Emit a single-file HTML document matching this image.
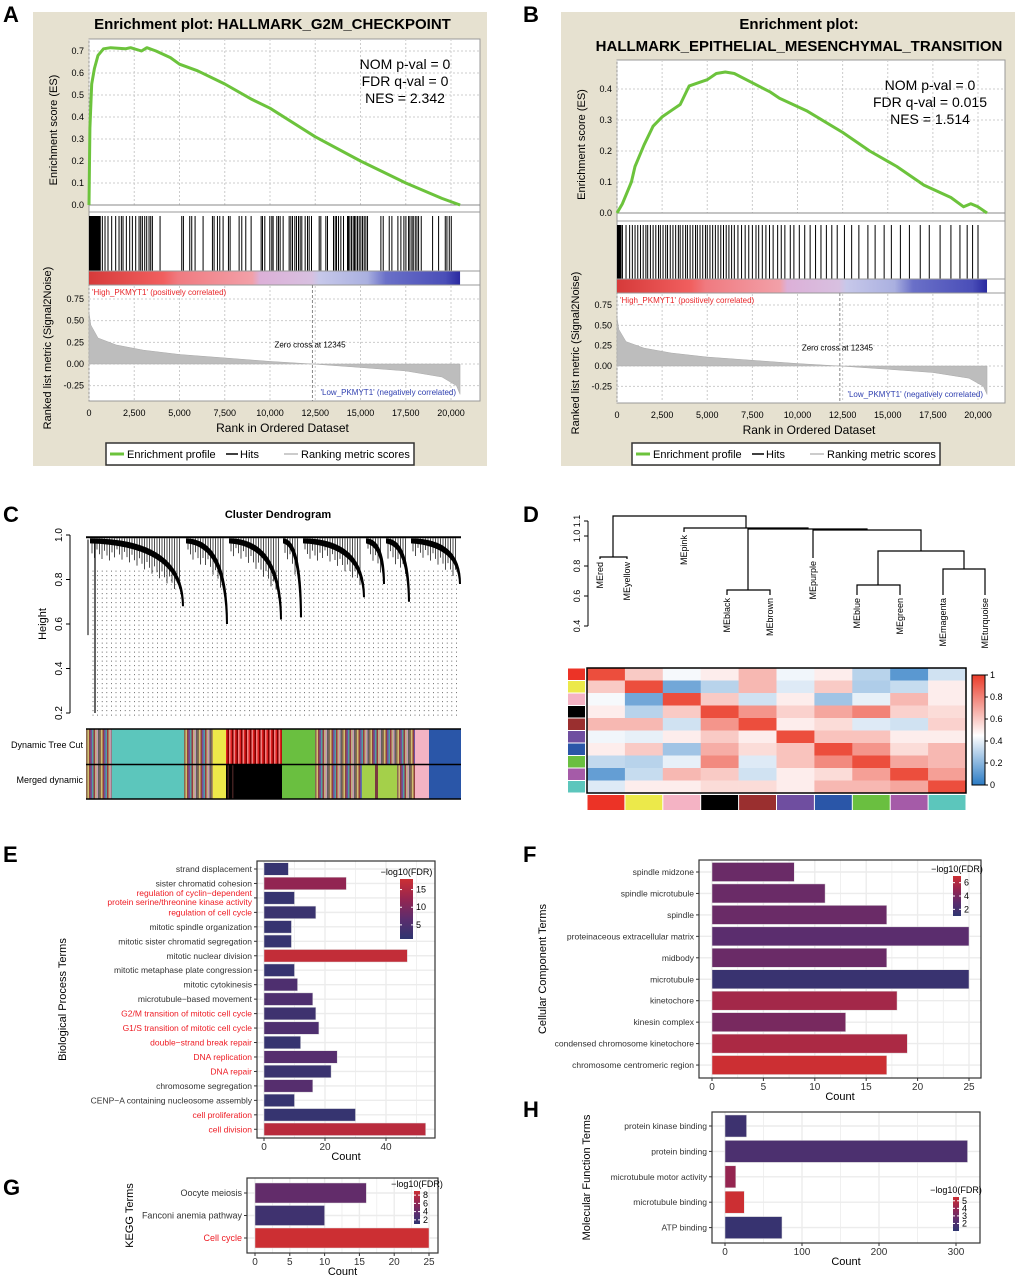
<!DOCTYPE html>
<html><head><meta charset="utf-8"><style>
html,body{margin:0;padding:0;background:#fff}
svg text{font-family:"Liberation Sans",Arial,sans-serif}
</style></head><body>
<svg id="fig" width="1020" height="1277" viewBox="0 0 1020 1277" xmlns="http://www.w3.org/2000/svg">
<rect width="1020" height="1277" fill="#fff"/>
<g font-weight="bold" font-size="22">
<text x="3" y="22">A</text><text x="523" y="22">B</text><text x="3" y="522">C</text><text x="523" y="522">D</text>
<text x="3" y="862">E</text><text x="523" y="862">F</text><text x="3" y="1195">G</text><text x="523" y="1117">H</text>
</g>
<g id="gA"></g>
<g id="gB"></g>
<g id="gC"></g>
<g id="gD"></g>
<g id="gE"></g>
<g id="gF"></g>
<g id="gG"></g>
<g id="gH"></g>
</svg>
<script>
const aEsRanks=[0,50,150,300,500,800,1200,2000,2300,2900,3200,3700,4500,5000,6000,7500,9000,10000,12500,15000,17500,19500,20500];
const aEsVals=[0,0.35,0.55,0.62,0.68,0.71,0.715,0.71,0.715,0.70,0.715,0.70,0.67,0.64,0.61,0.55,0.48,0.44,0.31,0.20,0.10,0.03,0];
const aHits=[737,885,1050,1253,1474,1659,1788,1880,2064,2248,2396,2580,2765,2857,2949,3078,3188,3317,3410,3502,3926,5124,5216,5566,5676,5861,6303,6819,6911,7096,7225,7409,7704,7796,8294,8441,8662,8957,9510,9584,9713,9989,10100,10173,10376,10468,10560,10726,11058,11150,11242,11371,11463,11574,11666,11758,11942,12072,12164,12293,12717,12809,13085,13177,13509,13601,13675,13786,13915,14062,14283,14339,14413,14505,14597,14670,14744,14836,14928,15020,15113,15205,15297,15389,16126,16255,16587,16734,17066,17232,17398,17509,17656,17730,17840,17914,18025,18117,18209,18356,18983,19315,19683,19775,19904,20015];
const aDenseEnd=650;
const bEsRanks=[0,300,800,1000,1500,2000,2500,3000,3500,4000,4500,5000,5500,6000,6500,7500,8500,9000,10500,12500,14000,15500,17000,18500,19200,19600,20000,20500];
const bEsVals=[0,0.03,0.10,0.15,0.22,0.28,0.31,0.33,0.35,0.41,0.42,0.43,0.45,0.455,0.45,0.42,0.39,0.37,0.33,0.26,0.20,0.15,0.09,0.05,0.02,0.03,0.02,0];
const bHits=[300,500,700,850,1000,1150,1300,1450,1600,1700,1850,2000,2150,2300,2400,2550,2700,2800,2950,3100,3250,3400,3500,3650,3800,3900,4050,4200,4350,4450,4600,4750,4900,5000,5150,5300,5450,5600,5750,5900,6050,6200,6350,6500,6700,6900,7100,7300,7500,7700,7850,8050,8250,8450,8650,8900,9100,9300,9600,9800,10100,10400,10700,11000,11300,11600,11900,12200,12600,13000,13400,13900,14300,14800,15200,15700,16200,16800,17300,17900,18500,19000,19400,19700,20000];
const bDenseEnd=250;
const metricRanks=[0,100,500,1500,3000,5000,7500,10000,12345,15000,17500,19500,20300,20500];
const metricVals=[0.6,0.45,0.3,0.22,0.16,0.11,0.07,0.03,0,-0.04,-0.08,-0.15,-0.25,-0.35];
const xTicks=[0,2500,5000,7500,10000,12500,15000,17500,20000];
const aEsTicks=[0,0.1,0.2,0.3,0.4,0.5,0.6,0.7];
const bEsTicks=[0,0.1,0.2,0.3,0.4];
const metricTicks=[-0.25,0,0.25,0.5,0.75];

const NS='http://www.w3.org/2000/svg';
function el(p,tag,at,txt){const e=document.createElementNS(NS,tag);for(const k in at)e.setAttribute(k,at[k]);if(txt!==undefined)e.textContent=txt;p.appendChild(e);return e;}

function gsea(g,cfg){
  const {bgX,bgY,bgW,bgH,px0,px1,x0,x20k,esTop,esBot,esMax,esTicks,hitTop,hitBot,cbTop,cbBot,mTop,mBot,m0,m75,ranks,vals,hits,denseEnd,stats,titles,legX,legY}=cfg;
  const bg=el(g,'rect',{x:bgX,y:bgY,width:bgW,height:bgH,fill:'#e6e1d0'});
  
  titles.forEach((t,i)=>{const e=el(g,'text',{x:(px0+px1)/2-12,y:bgY+17+i*22,'font-size':15,'font-weight':'bold','text-anchor':'middle'},t);
    });
  const X=r=>x0+(x20k-x0)*r/20000;
  const ES=v=>esBot-(esBot-esMax.y)*v/esMax.v;
  const M=v=>m0-(m0-m75)*v/0.75;
  el(g,'rect',{x:px0,y:esTop,width:px1-px0,height:mBot-esTop,fill:'#fff',stroke:'#999'});
  xTicks.forEach(t=>{el(g,'line',{x1:X(t),x2:X(t),y1:esTop,y2:esBot,stroke:'#ccc','stroke-dasharray':'2,2'});
    el(g,'line',{x1:X(t),x2:X(t),y1:mTop,y2:mBot,stroke:'#ccc','stroke-dasharray':'2,2'});});
  esTicks.forEach(t=>{el(g,'line',{x1:px0,x2:px1,y1:ES(t),y2:ES(t),stroke:'#ccc','stroke-dasharray':'2,2'});
    el(g,'text',{x:px0-5,y:ES(t)+3,'font-size':9,'text-anchor':'end'},t.toFixed(1));});
  metricTicks.forEach(t=>{el(g,'line',{x1:px0,x2:px1,y1:M(t),y2:M(t),stroke:'#ccc','stroke-dasharray':'2,2'});
    el(g,'text',{x:px0-5,y:M(t)+3,'font-size':9,'text-anchor':'end'},t.toFixed(2));});
  el(g,'line',{x1:px0,x2:px1,y1:esBot,y2:esBot,stroke:'#888'});
  el(g,'line',{x1:px0,x2:px1,y1:hitTop-4,y2:hitTop-4,stroke:'#999'});
  const dr=el(g,'rect',{x:X(0),y:hitTop,width:X(denseEnd)-X(0),height:hitBot-hitTop,fill:'#000'});
  
  hits.forEach(h=>{const l=el(g,'line',{x1:X(h),x2:X(h),y1:hitTop,y2:hitBot,stroke:'#000','stroke-width':1});
    });
  const gid='cb'+bgX;
  const lg=el(g,'linearGradient',{id:gid,x1:0,x2:1,y1:0,y2:0});
  [[0,'#d63a3a'],[0.2,'#f15f5f'],[0.24,'#f07a80'],[0.44,'#f2a0a8'],[0.46,'#dcb0d8'],[0.6,'#d8c0e0'],[0.62,'#c7c8ea'],[0.75,'#aab0e0'],[0.8,'#6a70c8'],[0.96,'#4a4eb8'],[1,'#2a2aa0']].forEach(s=>el(lg,'stop',{offset:s[0],'stop-color':s[1]}));
  const cb=el(g,'rect',{x:X(0),y:cbTop,width:X(20500)-X(0),height:cbBot-cbTop,fill:'url(#'+gid+')'});
  
  el(g,'line',{x1:px0,x2:px1,y1:cbTop,y2:cbTop,stroke:'#999'});
  el(g,'line',{x1:px0,x2:px1,y1:cbBot,y2:cbBot,stroke:'#999'});
  let d='M'+X(0)+','+M(0);
  metricRanks.forEach((r,i)=>d+=' L'+X(r)+','+M(metricVals[i]));
  d+=' L'+X(20500)+','+M(0)+' Z';
  const ar=el(g,'path',{d:d,fill:'#bdbdbd',stroke:'#aaa','stroke-width':0.5});
  
  el(g,'line',{x1:X(12345),x2:X(12345),y1:cbBot,y2:mBot,stroke:'#888','stroke-dasharray':'3,2'});
  el(g,'text',{x:X(12345)-38,y:M(0.25)+5,'font-size':8},'Zero cross at 12345');
  el(g,'text',{x:px0+3,y:cbBot+10,'font-size':8,fill:'#e8262a'},"'High_PKMYT1' (positively correlated)");
  el(g,'text',{x:X(20500)-4,y:mBot-6,'font-size':8,fill:'#3040b0','text-anchor':'end'},"'Low_PKMYT1' (negatively correlated)");
  let pd='';ranks.forEach((r,i)=>pd+=(i?' L':'M')+X(r).toFixed(1)+','+ES(vals[i]).toFixed(1));
  const ln=el(g,'path',{d:pd,fill:'none',stroke:'#6cc33c','stroke-width':3,'stroke-linejoin':'round'});
  
  stats.forEach((s,i)=>el(g,'text',{x:px1-75,y:esTop+30+i*17,'font-size':14,'text-anchor':'middle'},s));
  xTicks.forEach(t=>el(g,'text',{x:X(t),y:mBot+15,'font-size':9,'text-anchor':'middle'},t.toLocaleString('en-US')));
  el(g,'text',{x:(px0+px1)/2-2,y:mBot+31,'font-size':12,'text-anchor':'middle'},'Rank in Ordered Dataset');
  el(g,'text',{x:0,y:0,'font-size':11,'text-anchor':'middle',transform:`translate(${px0-32},${(esTop+esBot)/2+8}) rotate(-90)`},'Enrichment score (ES)');
  el(g,'text',{x:0,y:0,'font-size':11,'text-anchor':'middle',transform:`translate(${px0-38},${(cbTop+mBot)/2+12}) rotate(-90)`},'Ranked list metric (Signal2Noise)');
  const lgd=el(g,'g',{});
  el(lgd,'rect',{x:legX,y:legY,width:308,height:22,fill:'#fff',stroke:'#333','stroke-width':1.5});
  el(lgd,'line',{x1:legX+4,x2:legX+18,y1:legY+11,y2:legY+11,stroke:'#6cc33c','stroke-width':3});
  el(lgd,'text',{x:legX+21,y:legY+15,'font-size':11},'Enrichment profile');
  el(lgd,'line',{x1:legX+120,x2:legX+132,y1:legY+11,y2:legY+11,stroke:'#000','stroke-width':1.5});
  el(lgd,'text',{x:legX+134,y:legY+15,'font-size':11},'Hits');
  el(lgd,'line',{x1:legX+178,x2:legX+192,y1:legY+11,y2:legY+11,stroke:'#bbb','stroke-width':1.5});
  el(lgd,'text',{x:legX+195,y:legY+15,'font-size':11},'Ranking metric scores');
}
gsea(document.getElementById('gA'),{bgX:33,bgY:12,bgW:454,bgH:454,px0:89,px1:480,x0:89,x20k:451,esTop:39,esBot:205,esMax:{v:0.7,y:51},esTicks:aEsTicks,hitTop:216,hitBot:271,cbTop:271,cbBot:285,mTop:286,mBot:401,m0:364,m75:299,ranks:aEsRanks,vals:aEsVals,hits:aHits,denseEnd:aDenseEnd,stats:['NOM p-val = 0','FDR q-val = 0','NES = 2.342'],titles:['Enrichment plot: HALLMARK_G2M_CHECKPOINT'],legX:106,legY:443});
gsea(document.getElementById('gB'),{bgX:561,bgY:12,bgW:454,bgH:454,px0:617,px1:1005,x0:617,x20k:978,esTop:60,esBot:213,esMax:{v:0.4,y:89},esTicks:bEsTicks,hitTop:225,hitBot:279,cbTop:279,cbBot:293,mTop:294,mBot:403,m0:366,m75:305,ranks:bEsRanks,vals:bEsVals,hits:bHits,denseEnd:bDenseEnd,stats:['NOM p-val = 0','FDR q-val = 0.015','NES = 1.514'],titles:['Enrichment plot:','HALLMARK_EPITHELIAL_MESENCHYMAL_TRANSITION'],legX:632,legY:443});

const cClusters=[[90,184,0.68],[186,228,0.60],[229,282,0.62],[283,302,0.63],[303,365,0.72],[366,385,0.78],[386,410,0.70],[411,461,0.78]];
const cTreeCut=[['mix',86,112],['#5cc6bc',112,184],['mix',184,213],['#ede84a',213,226],['mixr',226,282],['#6abf40',282,315],['mix',315,415],['#f4b3c4',415,429],['#2a56a8',429,461]];
const cMerged=[['mix',86,112],['#5cc6bc',112,184],['mix',184,213],['#ede84a',213,226],['mixk',226,235],['#000000',235,282],['#6abf40',282,315],['mix',315,362],['#a4d04a',362,375],['#7a3a40',375,378],['#a4d04a',378,397],['mix',397,415],['#f4b3c4',415,429],['#2a56a8',429,461]];
const mixColors=['#8a6a50','#c49ab0','#9a3a40','#b0a060','#7050a0','#d0c070','#606060','#a07090','#c0b080','#50a0a0','#904040','#d0a0b0'];
const mixRed=['#e02020','#300000','#f08080','#000','#e83030','#800000','#f5a0a0','#e02020'];
(function(){
  const g=document.getElementById('gC');
  const Y=h=>535+(1-h)*222.5;
  el(g,'text',{x:278,y:518,'font-size':11,'font-weight':'bold','text-anchor':'middle'},'Cluster Dendrogram');
  el(g,'line',{x1:70,x2:70,y1:Y(1),y2:Y(0.2),stroke:'#000'});
  [0.2,0.4,0.6,0.8,1.0].forEach(t=>{el(g,'line',{x1:66,x2:70,y1:Y(t),y2:Y(t),stroke:'#000'});
    el(g,'text',{x:0,y:0,'font-size':10,'text-anchor':'middle',transform:`translate(62,${Y(t)}) rotate(-90)`},t.toFixed(1));});
  el(g,'text',{x:0,y:0,'font-size':11,'text-anchor':'middle',transform:`translate(46,${Y(0.6)}) rotate(-90)`},'Height');
  for(let x=93;x<=461;x+=4.6){el(g,'line',{x1:x,x2:x,y1:Y(0.84),y2:717,stroke:'#444','stroke-width':0.8,'stroke-dasharray':'1,3.5'});}
  el(g,'line',{x1:86,x2:461,y1:Y(0.99),y2:Y(0.99),stroke:'#000','stroke-width':2});
  cClusters.forEach(c=>{const [a,b,h]=c;const yt=Y(0.985);
    const p=el(g,'path',{d:`M${a},${yt} Q${b},${yt} ${b},${Y(h)} L${b-2},${Y(h)} Q${b-3},${yt+8} ${a},${yt+5} Z`,fill:'#000'});
    
    for(let x=a+2;x<b-3;x+=2.5){const f=(x-a)/(b-a);el(g,'line',{x1:x,x2:x,y1:yt,y2:yt+8+f*f*(Y(h)-yt)*0.55+((x*7)%13),stroke:'#000','stroke-width':0.7});}
  });
  el(g,'line',{x1:95,x2:95,y1:Y(0.98),y2:Y(0.2),stroke:'#000','stroke-width':1.2});
  el(g,'line',{x1:88,x2:88,y1:Y(0.98),y2:Y(0.55),stroke:'#000','stroke-width':1});
  function bar(list,y0,y1,name){const gg=el(g,'g',{});
    list.forEach(s=>{if(s[0].startsWith('mix')){const pal=s[0]==='mix'?mixColors:(s[0]==='mixr'?mixRed:['#000','#402020']);let i=0;
      for(let x=s[1];x<s[2];x+=1.5){el(gg,'rect',{x:x,y:y0,width:1.6,height:y1-y0,fill:pal[(i*5+Math.floor(i/3))%pal.length]});i++;}}
      else el(gg,'rect',{x:s[1],y:y0,width:s[2]-s[1],height:y1-y0,fill:s[0]});});}
  bar(cTreeCut,729,764,'dynamic-tree-cut-bar');bar(cMerged,765,799,'merged-dynamic-bar');
  el(g,'line',{x1:86,x2:461,y1:729,y2:729,stroke:'#000','stroke-width':1.5});
  el(g,'line',{x1:86,x2:461,y1:764.5,y2:764.5,stroke:'#000','stroke-width':1.5});
  el(g,'line',{x1:86,x2:461,y1:799,y2:799,stroke:'#000','stroke-width':1.5});
  el(g,'text',{x:83,y:748,'font-size':9,'text-anchor':'end'},'Dynamic Tree Cut');
  el(g,'text',{x:83,y:783,'font-size':9,'text-anchor':'end'},'Merged dynamic');
})();

const dModules=['MEred','MEyellow','MEpink','MEblack','MEbrown','MEpurple','MEblue','MEgreen','MEmagenta','MEturquoise'];
const dModuleColors=['#ec3326','#ece94a','#f4b3c4','#000000','#9a2f2f','#6f4ea0','#2a56a8','#6abf40','#a55ba8','#5cc6bc'];
const dCorr=[
[0.95,0.6,0.43,0.5,0.65,0.42,0.5,0.3,0.1,0.35],
[0.6,0.95,0.15,0.3,0.65,0.38,0.6,0.28,0.33,0.5],
[0.43,0.15,0.95,0.6,0.35,0.5,0.25,0.4,0.65,0.5],
[0.5,0.3,0.6,0.95,0.75,0.58,0.7,0.8,0.58,0.55],
[0.65,0.65,0.35,0.75,0.95,0.5,0.55,0.38,0.35,0.58],
[0.42,0.4,0.5,0.6,0.5,0.95,0.62,0.62,0.5,0.5],
[0.5,0.6,0.25,0.68,0.55,0.62,0.95,0.75,0.55,0.65],
[0.32,0.3,0.4,0.78,0.38,0.62,0.78,0.95,0.7,0.65],
[0.12,0.33,0.65,0.6,0.35,0.5,0.55,0.72,0.95,0.72],
[0.38,0.5,0.5,0.55,0.55,0.5,0.65,0.65,0.7,0.95]];
const dLeafX=[600,627,684,727,770,813,857,900,943,985];
const dLeafTop=[561,561,534,597,597,560,597,597,597,597];
const dScaleTicks=[0,0.2,0.4,0.6,0.8,1];
function heatCol(v){const mix=(a,b,t)=>a.map((x,i)=>Math.round(x+(b[i]-x)*t));
  const blue=[43,123,196],white=[255,255,255],red=[234,60,42];
  const c=v<0.45?mix(blue,white,v/0.45):mix(white,red,(v-0.45)/0.55);return `rgb(${c})`;}
(function(){
  const g=document.getElementById('gD');
  const Y=h=>521+(1.1-h)*150;
  el(g,'line',{x1:588,x2:588,y1:Y(1.1),y2:Y(0.4),stroke:'#000'});
  [0.4,0.6,0.8,1.0,1.1].forEach(t=>{el(g,'line',{x1:584,x2:588,y1:Y(t),y2:Y(t),stroke:'#000'});
    el(g,'text',{x:0,y:0,'font-size':9,'text-anchor':'middle',transform:`translate(580,${Y(t)}) rotate(-90)`},t.toFixed(1));});
  dModules.forEach((m,i)=>{el(g,'text',{x:0,y:0,'font-size':9,'text-anchor':'end',transform:`translate(${dLeafX[i]+3},${dLeafTop[i]+1}) rotate(-90)`},m);});
  const tree=el(g,'g',{stroke:'#000','stroke-width':1.2,fill:'none'});
  function join(xa,ya,xb,yb,y){el(tree,'path',{d:`M${xa},${ya} V${y} H${xb} V${yb}`});}
  const L=dLeafTop;
  join(600,L[0]-2,627,L[1]-2,557);join(727,L[3]-2,770,L[4]-2,590);join(857,L[6]-2,900,L[7]-2,585);join(943,L[8]-2,985,L[9]-2,569);
  join(878,585,964,569,551);join(813,L[5]-2,921,551,530);join(748,590,867,530,529);join(684,L[2]-2,808,529,528);join(613,557,746,528,516);
  const hx=587,hy=668,cw=37.9,ch=12.5;
  dCorr.forEach((row,r)=>row.forEach((v,c)=>{const cell=el(g,'rect',{x:hx+c*cw,y:hy+r*ch,width:cw+0.3,height:ch+0.3,fill:heatCol(v)});
    }));
  el(g,'rect',{x:hx,y:hy,width:cw*10,height:ch*10,fill:'none',stroke:'#000','stroke-width':1.5});
  dModuleColors.forEach((c,i)=>{el(g,'rect',{x:568,y:hy+i*ch+0.5,width:17,height:ch-1,fill:c});
    el(g,'rect',{x:hx+i*cw+0.5,y:795,width:cw-1,height:15,fill:c});});
  const gr=el(g,'linearGradient',{id:'dscale',x1:0,x2:0,y1:1,y2:0});
  [[0,'#2b7bc4'],[0.45,'#ffffff'],[1,'#ea3c2a']].forEach(s=>el(gr,'stop',{offset:s[0],'stop-color':s[1]}));
  el(g,'rect',{x:972,y:675,width:13,height:110,fill:'url(#dscale)',stroke:'#000'});
  dScaleTicks.forEach(t=>{const y=785-t*110;el(g,'line',{x1:985,x2:988,y1:y,y2:y,stroke:'#000'});
    el(g,'text',{x:990,y:y+3,'font-size':9},String(t));});
})();

const eTerms=['strand displacement','sister chromatid cohesion',['regulation of cyclin−dependent','protein serine/threonine kinase activity'],'regulation of cell cycle','mitotic spindle organization','mitotic sister chromatid segregation','mitotic nuclear division','mitotic metaphase plate congression','mitotic cytokinesis','microtubule−based movement','G2/M transition of mitotic cell cycle','G1/S transition of mitotic cell cycle','double−strand break repair','DNA replication','DNA repair','chromosome segregation','CENP−A containing nucleosome assembly','cell proliferation','cell division'];
const eRed=[0,0,1,1,0,0,0,0,0,0,1,1,1,1,1,0,0,1,1];
const eCounts=[8,27,10,17,9,9,47,10,11,16,17,18,12,24,22,16,10,30,53];
const eFdr=[2,12,2,2.5,2,2,17,2,5,5,3,5,2,6,2.5,6,2,2,16];
const eTicks=[0,20,40];
const fTerms=['spindle midzone','spindle microtubule','spindle','proteinaceous extracellular matrix','midbody','microtubule','kinetochore','kinesin complex','condensed chromosome kinetochore','chromosome centromeric region'];
const fCounts=[8,11,17,25,17,25,18,13,19,17];
const fFdr=[3.5,3.5,3.5,3,3.5,1.5,5.5,4,5.8,7];
const fTicks=[0,5,10,15,20,25];
const gTerms=['Oocyte meiosis','Fanconi anemia pathway','Cell cycle'];
const gRed=[0,0,1];
const gCounts=[16,10,25];
const gFdr=[4,2,9];
const gTicks=[0,5,10,15,20,25];
const hTerms=['protein kinase binding','protein binding','microtubule motor activity','microtubule binding','ATP binding'];
const hCounts=[28,315,14,25,74];
const hFdr=[1.5,2,4,5.5,1.3];
const hTicks=[0,100,200,300];

function fdrCol(t){const st=[[46,53,112],[91,45,110],[149,37,80],[204,47,51]];
  t=Math.max(0,Math.min(1,t));const p=t*3,i=Math.min(2,Math.floor(p)),f=p-i;
  return 'rgb('+st[i].map((x,k)=>Math.round(x+(st[i+1][k]-x)*f))+')';}
function hbar(g,o){
  const {fx0,fx1,fy0,fy1,x0,xUnit,rowY0,rowStep,barH,terms,counts,fdr,fmin,fmax,ticks,minorStep,red,yTitle,yTitleX,fs,leg,legTicks}=o;
  const X=v=>x0+v*xUnit;
  el(g,'rect',{x:fx0,y:fy0,width:fx1-fx0,height:fy1-fy0,fill:'#fff'});
  for(let v=0;X(v)<fx1;v+=minorStep){el(g,'line',{x1:X(v),x2:X(v),y1:fy0,y2:fy1,stroke:'#ececec','stroke-width':v%(minorStep*2)===0?1.4:0.8});}
  terms.forEach((t,i)=>el(g,'line',{x1:fx0,x2:fx1,y1:rowY0+i*rowStep,y2:rowY0+i*rowStep,stroke:'#ececec','stroke-width':1.4}));
  terms.forEach((t,i)=>{const y=rowY0+i*rowStep;
    const b=el(g,'rect',{x:X(0),y:y-barH/2,width:counts[i]*xUnit,height:barH,fill:fdrCol((fdr[i]-fmin)/(fmax-fmin)),stroke:'#ddd','stroke-width':0.5});
    
    const col=red&&red[i]?'#ee1c24':'#333';
    if(Array.isArray(t)){el(g,'text',{x:fx0-5,y:y-2,'font-size':fs,'text-anchor':'end',fill:col},t[0]);el(g,'text',{x:fx0-5,y:y+7,'font-size':fs,'text-anchor':'end',fill:col},t[1]);}
    else el(g,'text',{x:fx0-5,y:y+3,'font-size':fs,'text-anchor':'end',fill:col},t);
    el(g,'line',{x1:fx0-3,x2:fx0,y1:y,y2:y,stroke:'#333'});});
  el(g,'rect',{x:fx0,y:fy0,width:fx1-fx0,height:fy1-fy0,fill:'none',stroke:'#333','stroke-width':1.2});
  ticks.forEach(t=>{el(g,'line',{x1:X(t),x2:X(t),y1:fy1,y2:fy1+3,stroke:'#333'});
    el(g,'text',{x:X(t),y:fy1+12,'font-size':10,'text-anchor':'middle',fill:'#333'},String(t));});
  el(g,'text',{x:(fx0+fx1)/2,y:fy1+22,'font-size':11,'text-anchor':'middle'},'Count');
  el(g,'text',{x:0,y:0,'font-size':11,'text-anchor':'middle',transform:`translate(${yTitleX},${(fy0+fy1)/2}) rotate(-90)`},yTitle);
  const gid='lg'+fx0;const lg=el(g,'linearGradient',{id:gid,x1:0,x2:0,y1:1,y2:0});
  [0,0.33,0.66,1].forEach(s=>el(lg,'stop',{offset:s,'stop-color':fdrCol(s)}));
  el(g,'text',{x:leg.x+leg.w/2,y:leg.y-4,'font-size':9,'text-anchor':'middle'},'−log10(FDR)');
  el(g,'rect',{x:leg.x,y:leg.y,width:leg.w,height:leg.h,fill:'url(#'+gid+')'});
  legTicks.forEach(t=>{const y=leg.y+leg.h-(t-fmin)/(fmax-fmin)*leg.h;
    el(g,'line',{x1:leg.x,x2:leg.x+2,y1:y,y2:y,stroke:'#fff'});el(g,'line',{x1:leg.x+leg.w-2,x2:leg.x+leg.w,y1:y,y2:y,stroke:'#fff'});
    el(g,'text',{x:leg.x+leg.w+3,y:y+3,'font-size':9},String(t));});
}
hbar(document.getElementById('gE'),{fx0:257,fx1:435,fy0:861,fy1:1138,x0:264,xUnit:3.05,rowY0:869,rowStep:14.46,barH:12.5,terms:eTerms,counts:eCounts,fdr:eFdr,fmin:1,fmax:18,ticks:eTicks,minorStep:10,red:eRed,yTitle:'Biological Process Terms',yTitleX:66,fs:8.5,leg:{x:400,y:879,w:13,h:60},legTicks:[5,10,15]});
hbar(document.getElementById('gF'),{fx0:699,fx1:981,fy0:860,fy1:1078,x0:712,xUnit:10.28,rowY0:872,rowStep:21.45,barH:19,terms:fTerms,counts:fCounts,fdr:fFdr,fmin:1,fmax:7,ticks:fTicks,minorStep:2.5,red:null,yTitle:'Cellular Component Terms',yTitleX:546,fs:8.5,leg:{x:953,y:876,w:8,h:40},legTicks:[2,4,6]});
hbar(document.getElementById('gG'),{fx0:247,fx1:438,fy0:1178,fy1:1253,x0:255,xUnit:6.96,rowY0:1193,rowStep:22.5,barH:20,terms:gTerms,counts:gCounts,fdr:gFdr,fmin:1,fmax:9,ticks:gTicks,minorStep:2.5,red:gRed,yTitle:'KEGG Terms',yTitleX:133,fs:9,leg:{x:414,y:1191,w:6,h:33},legTicks:[2,4,6,8]});
hbar(document.getElementById('gH'),{fx0:712,fx1:980,fy0:1112,fy1:1243,x0:725,xUnit:0.77,rowY0:1126,rowStep:25.4,barH:22,terms:hTerms,counts:hCounts,fdr:hFdr,fmin:1,fmax:5.5,ticks:hTicks,minorStep:50,red:null,yTitle:'Molecular Function Terms',yTitleX:590,fs:8.5,leg:{x:953,y:1197,w:6,h:34},legTicks:[2,3,4,5]});
</script>
</body></html>
